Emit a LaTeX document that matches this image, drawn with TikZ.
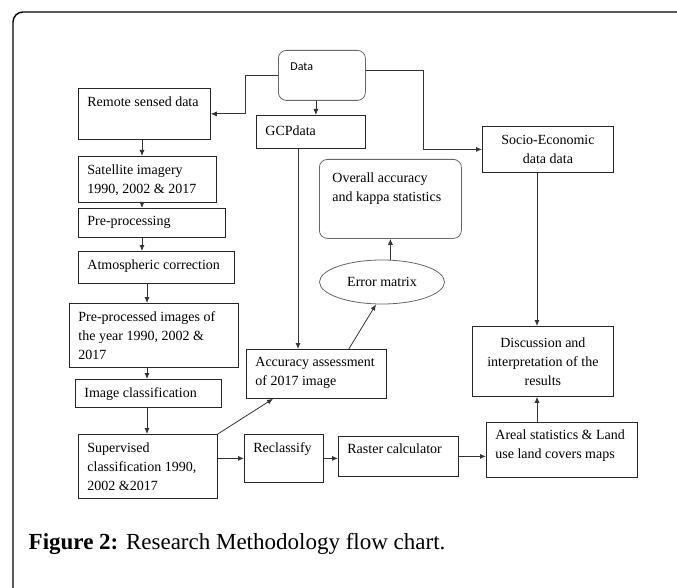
\documentclass[tikz,border=0pt]{standalone}
\usepackage{fontspec}
\setmainfont{Liberation Serif}
\newfontfamily\calibri{Carlito}
\usetikzlibrary{arrows.meta,shapes.geometric}

\tikzset{
  box/.style={draw=black!85, inner sep=0pt, anchor=north west},
  rbox/.style={box, draw=black!60, rounded corners=8pt},
  txt/.style={anchor=north west, inner sep=0pt, xshift=9pt, yshift=-8pt, align=left}
}

\begin{document}
\begin{tikzpicture}[x=1pt,y=-1pt,->,>={Latex[length=6pt,width=5pt]},
                    draw=black!80,line width=0.8pt,
                    font=\fontsize{14}{19}\selectfont]

\useasboundingbox (0,0) rectangle (677,588);
\draw[-,draw=black,line width=1.4pt,rounded corners=10pt] (13,588) |- (677,12);

 % top
 \node[rbox, minimum width=87, minimum height=50,
       label={[txt, xshift=3pt, yshift=-4pt, font=\calibri\fontsize{12}{14}\selectfont]north west:Data}] (data) at (278,50) {};
 \node[box, minimum width=109, minimum height=33,
       label={[txt, yshift=-2pt]north west:GCPdata}] (gcp) at (256,115) {};
 \node[box, minimum width=131, minimum height=46, align=center] (socio) at (482,126) {Socio-Economic\\data data};

 % left column
 \node[box, minimum width=132, minimum height=51, label={[txt]north west:Remote sensed data}] (remote) at (78,88) {};
 \node[box, minimum width=138, minimum height=46, label={[txt]north west:Satellite imagery\\1990, 2002 \& 2017}] (sat) at (78,156) {};
 \node[box, minimum width=147, minimum height=29, label={[txt]north west:Pre-processing}] (pre) at (78,208) {};
 \node[box, minimum width=156, minimum height=32, label={[txt]north west:Atmospheric correction}] (atm) at (78,251) {};
 \node[box, minimum width=169, minimum height=64, label={[txt]north west:Pre-processed images of\\the year 1990, 2002 \&\\2017}] (ppi) at (69,303) {};
 \node[box, minimum width=146, minimum height=28, label={[txt]north west:Image classification}] (imgc) at (75,379) {};
 \node[box, minimum width=139, minimum height=64, label={[txt]north west:Supervised\\classification 1990,\\2002 \&2017}] (sup) at (78,434) {};

 % bottom row
 \node[box, minimum width=79, minimum height=48, label={[txt]north west:Reclassify}] (recl) at (244,434) {};
 \node[box, minimum width=120, minimum height=40, label={[txt, yshift=1pt]north west:Raster calculator}] (raster) at (338,436) {};
 \node[box, minimum width=151, minimum height=55, label={[txt, yshift=1pt]north west:Areal statistics \& Land\\use land covers maps}] (areal) at (486,422) {};

 % middle
 \node[box, minimum width=140, minimum height=49, label={[txt]north west:Accuracy assessment\\of 2017 image}] (acc) at (246,349) {};
 \node[ellipse, draw=black!60, minimum width=125, minimum height=44, inner sep=0pt] (err) at (382,282) {Error matrix};
 \node[rbox, minimum width=142, minimum height=79,
       label={[txt, xshift=4pt, yshift=-5pt]north west:Overall accuracy\\and kappa statistics}] (ovr) at (319,159) {};
 \node[box, minimum width=141, minimum height=70, align=center] (disc) at (472,326) {Discussion and\\interpretation of the\\results};

 \node[anchor=base west, font=\fontsize{23}{27}\selectfont] (cap) at (25,549) {\textbf{Figure 2:} Research Methodology flow chart.};

 \coordinate (c1) at (142,0);
 \coordinate (c2) at (147,0);
 \coordinate (c3) at (298,0);
 \coordinate (c4) at (537,0);

 \draw (data.west) -- ++(-33,0) |- (remote.east);
 \draw ([xshift=-6pt]data.south) -- ([xshift=-6pt]data.south |- gcp.north);
 \draw ([yshift=5pt]data.east) -- ++(58,0) |- (socio.west);

 \path (remote.south -| c1) edge (sat.north -| c1)
       (sat.south -| c1) edge (pre.north -| c1)
       (pre.south -| c1) edge (atm.north -| c1)
       (atm.south -| c2) edge (ppi.north -| c2)
       (ppi.south -| c2) edge (imgc.north -| c2)
       (imgc.south -| c2) edge (sup.north -| c2)
       (sup.north east) edge ([xshift=27pt]acc.south west)
       (sup.east |- recl.west) edge (recl.west)
       (recl.east) edge (recl.east -| raster.west)
       (raster.east) edge (raster.east -| areal.west)
       (areal.north -| c4) edge (disc.south -| c4)
       (socio.south -| c4) edge (disc.north -| c4)
       (gcp.south -| c3) edge (acc.north -| c3)
       ([xshift=-38pt]acc.north east) edge ([xshift=-6pt]err.south)
       (err.north -| ovr) edge (ovr.south);

\end{tikzpicture}
\end{document}
